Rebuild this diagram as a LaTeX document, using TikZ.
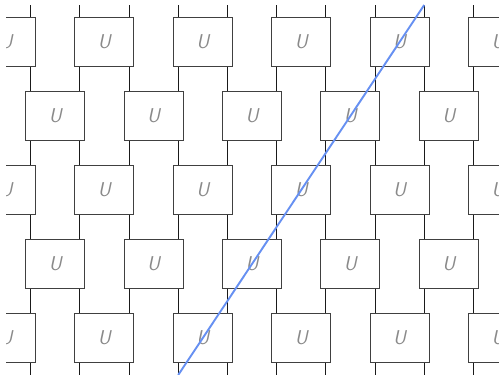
\documentclass[tikz,border=0pt]{standalone}
\usepackage{tikz}
\usetikzlibrary{calc}
\definecolor{wire}{HTML}{1A1A1A}
\definecolor{gateedge}{HTML}{404040}
\definecolor{glabel}{HTML}{8A8A8A}
\definecolor{cone}{HTML}{6690F2}
\tikzset{ugate/.style={draw=gateedge,fill=white,line width=1.1pt,minimum width=59pt,minimum height=49.5pt,inner sep=0pt,text=glabel,font=\fontsize{20}{20}\selectfont\sffamily\itshape}}

\begin{document}
\begin{tikzpicture}[x=1pt,y=-1pt]
\useasboundingbox (0,0) rectangle (499,375);
\begin{scope}
\clip (6,0) rectangle (499,375);
% wires: ten vertical lines, 49.2 apart
\foreach \k in {0,...,9} {
  \coordinate (t\k) at (30.6+49.2*\k,5);
  \coordinate (b\k) at (30.6+49.2*\k,375);
  \draw[wire,line width=1pt] (t\k) -- (b\k);
}
% brickwork of gates: rows 0,2,4 start half a gate out on the left
\foreach \r in {0,2,4} {
  \foreach \j in {0,...,5}
    \node[ugate] (u\r\j) at (6+98.4*\j,42+74*\r) {U};
}
\foreach \r in {1,3} {
  \foreach \j in {0,...,4}
    \node[ugate] (u\r\j) at (55.2+98.4*\j,42+74*\r) {U};
}
% edge of the light cone
\draw[cone,line width=1.9pt] (b3) -- (t8);
\end{scope}
\end{tikzpicture}
\end{document}
